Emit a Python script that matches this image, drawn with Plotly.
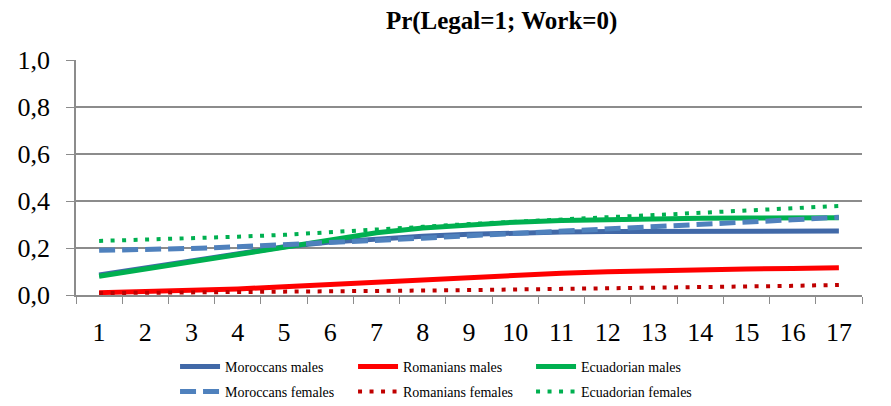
import plotly.graph_objects as go

x_cats = [str(i) for i in range(1, 18)]

moroccans_males = [0.085, 0.115, 0.145, 0.175, 0.205, 0.225, 0.24, 0.25, 0.258, 0.264, 0.268, 0.27, 0.271, 0.272, 0.272, 0.272, 0.272]
romanians_males = [0.01, 0.014, 0.019, 0.026, 0.035, 0.045, 0.056, 0.067, 0.077, 0.086, 0.093, 0.099, 0.104, 0.108, 0.111, 0.113, 0.116]
ecuadorian_males = [0.08, 0.11, 0.14, 0.17, 0.2, 0.235, 0.265, 0.285, 0.3, 0.31, 0.317, 0.322, 0.325, 0.327, 0.328, 0.329, 0.329]
moroccans_females = [0.19, 0.193, 0.198, 0.205, 0.213, 0.222, 0.232, 0.242, 0.252, 0.261, 0.27, 0.279, 0.289, 0.299, 0.309, 0.32, 0.331]
romanians_females = [0.008, 0.009, 0.01, 0.012, 0.013, 0.015, 0.017, 0.019, 0.021, 0.023, 0.025, 0.027, 0.03, 0.033, 0.036, 0.039, 0.043]
ecuadorian_females = [0.23, 0.235, 0.24, 0.248, 0.256, 0.266, 0.278, 0.29, 0.302, 0.313, 0.322, 0.331, 0.34, 0.349, 0.358, 0.367, 0.379]

series = [
    ("Moroccans males", moroccans_males, "#4169a8", "solid", 5, "legend"),
    ("Romanians males", romanians_males, "#ff0000", "solid", 5, "legend"),
    ("Ecuadorian males", ecuadorian_males, "#00b050", "solid", 5, "legend"),
    ("Moroccans females", moroccans_females, "#4f81bd", "16px,7px", 5, "legend2"),
    ("Romanians females", romanians_females, "#c00000", "4px,7.5px", 4, "legend2"),
    ("Ecuadorian females", ecuadorian_females, "#00b050", "4px,7.5px", 4, "legend2"),
]

fig = go.Figure()
for name, vals, color, dash, width, leg in series:
    fig.add_trace(go.Scatter(
        x=x_cats, y=vals, name=name, mode="lines", legend=leg,
        line=dict(color=color, width=width, dash=dash),
    ))

font_family = "Liberation Serif, Times New Roman, serif"
legend_common = dict(orientation="h", x=0.126, xanchor="left", yref="container",
                     yanchor="top", font=dict(size=14, family=font_family),
                     entrywidth=123, itemwidth=40, tracegroupgap=0,
                     bgcolor="rgba(0,0,0,0)")
fig.update_layout(
    width=891, height=406,
    margin=dict(l=76, r=29, t=60, b=111, autoexpand=False),
    paper_bgcolor="white", plot_bgcolor="white",
    separators=",.",
    font=dict(family=font_family, color="black"),
    title=dict(text="<b>Pr(Legal=1; Work=0)</b>", x=0.563, xanchor="center",
               y=0.95, yanchor="middle", font=dict(size=25, family=font_family)),
    showlegend=True,
    legend=dict(y=0.136, **legend_common),
    legend2=dict(y=0.074, **legend_common),
)
fig.update_xaxes(
    type="category", range=[-0.5, 16.5], tickson="boundaries", ticks="outside", ticklen=7,
    tickcolor="#8c8c8c", showline=True, linecolor="#8c8c8c", linewidth=1.5,
    showgrid=False, tickfont=dict(size=26, family=font_family), ticklabelstandoff=13,
)
fig.update_yaxes(
    range=[0, 1], dtick=0.2, tickformat=".1f", showgrid=True, gridcolor="#8c8c8c",
    gridwidth=1.5, showline=True, linecolor="#8c8c8c", linewidth=1.5,
    ticks="outside", ticklen=8, tickcolor="#8c8c8c", ticklabelstandoff=11,
    tickfont=dict(size=26, family=font_family), zeroline=False,
)

fig.write_html("out.html", config={"displayModeBar": False},
               post_script="document.body.style.margin='0';")
